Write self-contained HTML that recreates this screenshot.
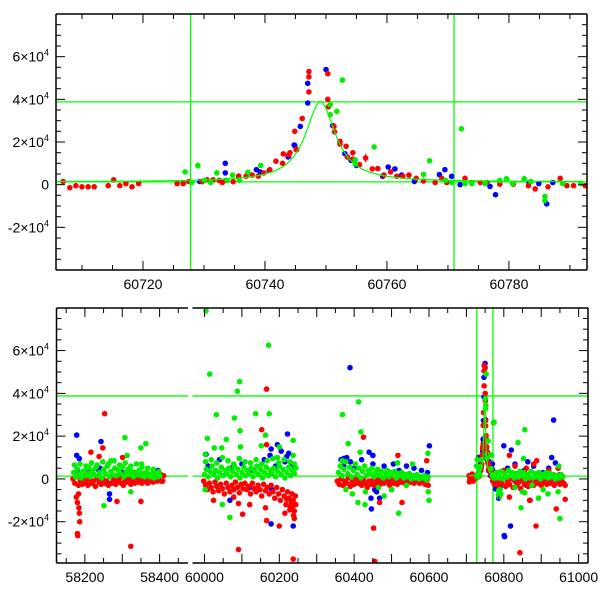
<!DOCTYPE html>
<html><head><meta charset="utf-8">
<style>
html,body{margin:0;padding:0;background:#fff;}
svg{display:block;font-family:"Liberation Sans",sans-serif;}
</style></head>
<body>
<svg id="chart" width="600" height="600" viewBox="0 0 600 600" xmlns="http://www.w3.org/2000/svg"></svg>
<script>
// ---------- DATA (values in units of 1e4) ----------
const topRed=[[60706.9,0.15],[60708,-0.14],[60709,-0.05],[60710,-0.1],[60711,-0.1],[60712,-0.1],[60714.3,-0.05],[60715.2,0.23],[60716.2,-0.05],[60717.2,0.05],[60718.2,-0.1],[60719.3,0.05],[60725.6,0.05],[60726.6,0.05],[60727.5,0.15],[60729.7,0.14],[60730.5,0.23],[60731.5,0.23],[60732.5,0.2],[60733,0.1],[60733.6,0.2],[60734.8,0.14],[60735.7,0.4],[60736.9,0.4],[60737.9,0.45],[60738.9,0.4],[60739.8,0.55],[60740.8,0.7],[60741.8,1.1],[60742.9,1.0],[60743.9,1.4],[60744.9,2.5],[60745.1,1.65],[60743,1.44],[60744.1,1.5],[60745.2,1.64],[60746.1,3.1],[60747.2,4.35],[60747.2,5.05],[60747.2,5.3],[60750.3,5.2],[60750.3,4.0],[60750.4,3.65],[60751.3,2.73],[60751.4,2.48],[60752.3,2.03],[60752.3,1.9],[60753.3,1.8],[60753.5,1.3],[60754.4,1.5],[60754.4,1.2],[60755.5,0.94],[60756.5,1.25],[60757.6,0.74],[60758.5,0.76],[60759.5,0.45],[60760.6,0.6],[60761.6,0.39],[60762.6,0.39],[60763.6,0.45],[60764.8,0.3],[60766,0.17],[60767.9,0.1],[60769,0.3],[60769.8,0.1],[60772.8,0.3],[60773.9,0.1],[60775.3,0.1],[60776.4,0.1],[60778.5,0.02],[60780.7,0.02],[60783.2,-0.05],[60784.3,-0.2],[60786.4,-0.1],[60788.4,0.3],[60789.5,-0.05],[60790.6,-0.05],[60792.5,-0.05]];
const topBlue=[[60747,4.75],[60747,3.83],[60745.8,2.73],[60744.9,1.83],[60743.8,1.3],[60750,5.4],[60751.1,2.77],[60753.1,1.45],[60754.1,1.14],[60755,0.9],[60759.3,0.39],[60760.2,0.83],[60761.3,0.74],[60762.4,0.45],[60764.5,0.15],[60768.6,0.47],[60769.5,0.7],[60770.6,0.39],[60772,0],[60776.9,-0.08],[60777.8,-0.47],[60783.3,0.1],[60786.2,-0.9],[60787.2,0.1],[60784.9,0.05],[60729.3,0.15],[60733.5,1.0],[60733.5,0.55],[60735.7,0.36],[60738.6,0.7],[60739.2,0.6],[60740.7,0.67],[60743.9,1.33],[60744.8,1.86]];
const topGreen=[[60726.9,0.6],[60729,0.9],[60728,0.1],[60730.1,0.2],[60731.1,0.1],[60732.1,0.55],[60734.7,0.45],[60735.8,0.2],[60737.2,0.58],[60739.3,0.9],[60733.8,0.2],[60752.7,4.9],[60750.7,3.75],[60750.7,3.28],[60751.8,3.44],[60757.9,1.77],[60754.8,1.17],[60754.8,0.97],[60767,1.12],[60766,0.48],[60772.2,2.62],[60769.6,0.2],[60770.6,0.1],[60772.8,0.05],[60773.9,0.05],[60776.1,0.05],[60778.5,0.2],[60779.6,0.28],[60780.6,0.05],[60782.5,0.28],[60783.6,0.15],[60785.9,-0.55],[60785.9,-0.75],[60788.8,0.05],[60791.8,0.05]];
const errBars=[[60729,0.9,0.15,'g'],[60756.5,1.25,0.2,'r'],[60785.9,-0.65,0.2,'g'],[60786.2,-0.9,0.1,'b']];
const botRed=[[58253,3.05],[58216,1.25],[58248,1.45],[58238,1.05],[58301,1.0],[58177,-0.85],[58183,-0.7],[58180,-1.1],[58184,-1.35],[58185,-1.6],[58186,-2.0],[58180,-2.55],[58181,-2.65],[58286,-1.05],[58323,-3.15],[58350,-1.05],[58405,-0.1],[60166,4.2],[60153,2.3],[60166,1.6],[60091,-3.3],[60102,-1.65],[60091,-1.15],[60078,-0.85],[60024,-1.0],[60166,-1.95],[60200,-2.2],[60237,-3.75],[60240,-1.85],[60215,-1.6],[60235,-1.3],[60121,-1.2],[60163,-1.35],[60425,1.95],[60452,-2.3],[60517,1.1],[60528,-1.1],[60594,0.85],[60468,-1.1],[60455,-3.85],[60843,-3.45],[60886,-2.2],[60964,-0.95],[60940,-1.4],[60815,1.1],[60888,0.85],[60815,-0.85],[60869,-1.0],[60717,0.05]];
const botBlue=[[58178,2.05],[58178,1.1],[58185,0.95],[58243,1.75],[58266,-0.7],[58266,-0.95],[58396,0.4],[58235,0.45],[60178,-2.1],[60222,2.1],[60237,-2.2],[60068,-1.0],[60195,1.6],[60220,1.05],[60178,1.4],[60004,1.15],[60389,5.2],[60601,1.55],[60446,-1.4],[60440,1.25],[60372,0.95],[60505,0.7],[60450,1.1],[60800,1.55],[60801,-2.65],[60802,-2.7],[60818,-2.2],[60933,2.75],[60928,1.0],[60820,1.35],[60864,0.8],[60938,0.75],[60870,-1.0]];
const botGreen=[[58307,1.93],[58363,1.65],[58350,1.45],[58313,1.1],[58251,-1.25],[58323,-0.6],[58270,0.85],[58352,0.7],[58210,0.55],[60004,7.85],[60014,4.9],[60032,3.0],[60008,1.9],[60002,1.15],[60026,1.45],[60046,1.45],[60058,1.85],[60080,2.85],[60088,4.1],[60094,4.55],[60095,2.25],[60096,1.5],[60068,-1.8],[60002,-0.5],[60137,3.05],[60173,3.05],[60171,6.25],[60163,2.05],[60152,1.55],[60200,1.5],[60237,1.8],[60237,1.1],[60195,1.0],[60048,-1.2],[60369,3.0],[60412,3.6],[60418,2.2],[60384,1.65],[60416,1.25],[60597,1.2],[60519,-1.6],[60600,-1.0],[60429,-1.2],[60516,0.75],[60556,0.7],[60368,0.85],[60774,2.65],[60856,2.3],[60838,1.7],[60846,-1.35],[60950,-1.85],[60853,0.95],[60947,0.6],[60788,-0.85],[60856,-0.65],[60893,-0.9]];
const bandRed=[[58168,0.0],[58173,-0.2],[58178,0.1],[58183,-0.3],[58188,-0.1],[58193,-0.25],[58198,0.05],[58203,-0.15],[58208,-0.3],[58213,0.0],[58218,-0.2],[58223,-0.1],[58228,-0.35],[58233,0.05],[58238,-0.15],[58243,-0.25],[58248,0.0],[58253,-0.2],[58258,-0.1],[58263,-0.3],[58268,0.1],[58273,-0.2],[58278,-0.05],[58283,-0.25],[58288,-0.1],[58293,0.05],[58298,-0.2],[58303,-0.3],[58308,-0.05],[58313,-0.15],[58318,0.0],[58323,-0.25],[58328,-0.1],[58333,-0.2],[58338,0.05],[58343,-0.15],[58348,-0.05],[58353,-0.2],[58358,0.0],[58363,-0.1],[58368,-0.2],[58373,0.05],[58378,-0.1],[58383,-0.15],[58388,0.0],[58393,-0.1],[58398,0.1],[58403,0.2],[58408,-0.1],[58411,0.15],
[59998,-0.1],[60003,-0.3],[60008,-0.5],[60013,-0.2],[60018,-0.4],[60023,-0.6],[60028,-0.15],[60033,-0.35],[60038,-0.55],[60043,-0.25],[60048,-0.45],[60053,-0.7],[60058,-0.2],[60063,-0.4],[60068,-0.6],[60073,-0.3],[60078,-0.5],[60083,-0.15],[60088,-0.4],[60093,-0.65],[60098,-0.25],[60103,-0.45],[60108,-0.2],[60113,-0.5],[60118,-0.35],[60123,-0.7],[60128,-0.2],[60133,-0.45],[60138,-0.6],[60143,-0.3],[60148,-0.5],[60153,-0.8],[60158,-0.25],[60163,-0.55],[60168,-0.4],[60173,-0.7],[60178,-0.3],[60183,-0.6],[60188,-0.9],[60193,-0.4],[60198,-0.7],[60203,-1.0],[60208,-0.5],[60213,-0.8],[60218,-1.2],[60222,-0.6],[60226,-0.9],[60230,-1.3],[60234,-0.7],[60237,-1.0],[60240,-1.5],[60243,-0.8],[60244,-1.2],[60238,-1.7],[60228,-1.45],[60232,-1.1],[60220,-0.95],
[60355,-0.1],[60360,-0.25],[60365,0.0],[60370,-0.3],[60375,-0.1],[60380,-0.2],[60385,0.05],[60390,-0.35],[60395,-0.15],[60400,-0.25],[60405,0.0],[60410,-0.2],[60415,-0.1],[60420,-0.3],[60425,-0.05],[60430,-0.2],[60435,-0.4],[60440,-0.1],[60445,-0.25],[60450,-0.05],[60455,-0.3],[60460,-0.15],[60465,0.0],[60470,-0.25],[60475,-0.1],[60480,-0.2],[60485,0.05],[60490,-0.15],[60495,-0.3],[60500,-0.05],[60505,-0.2],[60510,-0.1],[60515,-0.25],[60520,0.0],[60525,-0.15],[60530,-0.05],[60535,-0.2],[60540,-0.1],[60545,0.0],[60550,-0.15],[60555,-0.05],[60560,-0.2],[60565,0.0],[60570,-0.1],[60575,-0.2],[60580,0.0],[60585,-0.1],[60590,-0.25],[60595,-0.05],[60598,-0.3],
[60770,-0.1],[60775,-0.25],[60780,0.0],[60785,-0.3],[60790,-0.1],[60795,-0.2],[60800,0.05],[60805,-0.35],[60810,-0.15],[60815,-0.25],[60820,0.0],[60825,-0.4],[60830,-0.1],[60835,-0.3],[60840,-0.15],[60845,-0.45],[60850,-0.05],[60855,-0.25],[60860,-0.1],[60865,-0.35],[60870,-0.2],[60875,0.0],[60880,-0.3],[60885,-0.1],[60890,-0.2],[60895,-0.05],[60900,-0.3],[60905,-0.15],[60910,0.0],[60915,-0.25],[60920,-0.1],[60925,-0.2],[60930,0.0],[60935,-0.3],[60940,-0.15],[60945,-0.05],[60950,-0.25],[60955,-0.1],[60960,-0.2],[60964,-0.3],
[60800,0.4],[60830,0.6],[60860,0.5],[60880,0.7],[60920,0.4],[60945,0.5]];
const bandBlue=[[58180,0.4],[58210,0.3],[58240,0.5],[58270,-0.2],[58300,0.3],[58330,0.2],[58360,0.25],[58390,0.1],
[60010,0.6],[60040,0.9],[60070,0.5],[60100,0.7],[60130,0.4],[60160,0.9],[60175,1.1],[60190,0.6],[60205,1.3],[60215,0.8],[60225,1.2],[60235,0.7],[60242,0.5],[60120,-0.4],[60180,-0.5],
[60365,0.9],[60372,0.6],[60380,1.0],[60390,0.8],[60400,0.5],[60420,0.9],[60450,0.7],[60460,-0.6],[60468,-0.9],[60480,0.6],[60500,-0.5],[60520,0.4],[60540,0.6],[60560,0.5],[60580,0.4],[60596,0.3],[60445,-0.9],[60455,-0.5],
[60785,0.3],[60810,0.5],[60830,0.7],[60855,0.4],[60880,0.6],[60905,0.3],[60920,0.5],[60950,0.2],[60790,-0.4],[60860,-0.3]];
const bandGreen=[[58170,0.3],[58175,0.1],[58180,0.45],[58185,0.2],[58190,0.05],[58195,0.35],[58200,0.15],[58205,0.5],[58210,0.25],[58215,0.1],[58220,0.4],[58225,0.2],[58230,0.55],[58235,0.15],[58240,0.3],[58245,0.05],[58250,0.45],[58255,0.25],[58260,0.6],[58265,0.1],[58270,0.35],[58275,0.2],[58280,0.5],[58285,0.15],[58290,0.4],[58295,0.25],[58300,0.55],[58305,0.1],[58310,0.3],[58315,0.45],[58320,0.2],[58325,0.35],[58330,0.1],[58335,0.3],[58340,0.2],[58345,0.4],[58350,0.15],[58355,0.25],[58360,0.1],[58365,0.3],[58370,0.2],[58375,0.1],[58380,0.25],[58385,0.05],[58390,0.2],[58395,0.1],[58400,0.15],
[58172,0.65],[58187,0.7],[58203,0.6],[58218,0.75],[58233,0.65],[58248,0.8],[58263,0.7],[58278,0.85],[58293,0.65],[58308,0.75],[58323,0.6],[58338,0.7],[58353,0.55],[58368,0.5],[58383,0.45],[58398,0.35],
[60000,0.2],[60005,0.45],[60010,0.1],[60015,0.35],[60020,0.6],[60025,0.2],[60030,0.4],[60035,0.05],[60040,0.3],[60045,0.55],[60050,0.15],[60055,0.4],[60060,0.25],[60065,0.5],[60070,0.1],[60075,0.35],[60080,0.6],[60085,0.2],[60090,0.45],[60095,0.05],[60100,0.3],[60105,0.55],[60110,0.15],[60115,0.4],[60120,0.25],[60125,0.5],[60130,0.1],[60135,0.35],[60140,0.6],[60145,0.2],[60150,0.45],[60155,0.05],[60160,0.3],[60165,0.55],[60170,0.15],[60175,0.4],[60180,0.25],[60185,0.5],[60190,0.1],[60195,0.35],[60200,0.6],[60205,0.2],[60210,0.45],[60215,0.05],[60220,0.3],[60225,0.55],[60230,0.15],[60235,0.4],[60240,0.25],[60244,0.5],
[60003,0.8],[60018,0.9],[60033,0.75],[60048,1.0],[60063,0.85],[60078,0.7],[60093,0.95],[60108,0.8],[60123,0.75],[60138,0.9],[60153,0.7],[60168,0.85],[60183,0.95],[60198,0.75],[60213,0.9],[60228,0.8],[60240,0.7],
[60358,0.3],[60363,0.6],[60368,0.15],[60373,0.45],[60378,0.8],[60383,0.25],[60388,0.55],[60393,0.1],[60398,0.4],[60403,0.7],[60408,0.2],[60413,0.5],[60418,0.05],[60423,0.35],[60428,0.6],[60433,0.15],[60438,0.4],[60443,0.25],[60448,0.5],[60453,0.1],[60458,0.3],[60463,0.45],[60468,0.15],[60473,0.35],[60478,0.05],[60483,0.25],[60488,0.4],[60493,0.1],[60498,0.3],[60503,0.2],[60508,0.35],[60513,0.05],[60518,0.25],[60523,0.15],[60528,0.3],[60533,0.05],[60538,0.2],[60543,0.1],[60548,0.25],[60553,0.0],[60558,0.15],[60563,0.05],[60568,0.2],[60573,0.0],[60578,0.1],[60583,0.05],[60588,0.15],[60593,-0.05],[60598,0.1],
[60378,-0.5],[60395,-0.7],[60410,-1.1],[60430,-0.6],[60465,-0.4],[60480,-0.8],[60500,-0.5],[60540,-0.3],[60598,-0.6],
[60773,0.2],[60778,0.05],[60783,0.3],[60788,0.1],[60793,0.35],[60798,0.0],[60803,0.25],[60808,0.1],[60813,0.4],[60818,0.15],[60823,0.3],[60828,0.05],[60833,0.25],[60838,0.1],[60843,0.35],[60848,0.15],[60853,0.3],[60858,0.0],[60863,0.2],[60868,0.1],[60873,0.35],[60878,0.05],[60883,0.25],[60888,0.1],[60893,0.3],[60898,0.0],[60903,0.2],[60908,0.1],[60913,0.3],[60918,0.05],[60923,0.25],[60928,0.1],[60933,0.2],[60938,0.0],[60943,0.15],[60948,0.05],[60953,0.2],[60958,0.1],
[60790,-0.5],[60792,-0.7],[60830,-0.4],[60850,-0.6],[60875,-0.3],[60905,-0.5],[60918,-0.7],[60945,-0.6]];
const fitBase=0.13, fitAmp=3.75, fitCenter=60749.1, fitWidth=3.0;
const hLines=[0.13,3.88];
const vLines=[60727.8,60771];
const topXTicks=[60720,60740,60760,60780];
const botXTicks=[58200,58400,60000,60200,60400,60600,60800,61000];
const yTickVals=[-2,0,2,4,6];

// ---------- AXES ----------
const svg=document.getElementById('chart');
const NS='http://www.w3.org/2000/svg';
const COL={r:'#ff0000',b:'#0000ff',g:'#00ee00'};
function mk(tag,attrs,parent){const e=document.createElementNS(NS,tag);for(const k in attrs)e.setAttribute(k,attrs[k]);(parent||svg).appendChild(e);return e;}
const panelTop={x0:56,x1:587,y0:14,y1:270,yd:[-4,8],segs:[{p0:56,p1:587,d0:60705.74,d1:60792.8}]};
const panelBot={x0:56.5,x1:588,y0:308,y1:563,yd:[-3.93,7.99],segs:[{p0:56.5,p1:188,d0:58124,d1:58476},{p0:192.5,p1:588,d0:59968,d1:61025}]};
function sy(P,v){return P.y1-(v-P.yd[0])/(P.yd[1]-P.yd[0])*(P.y1-P.y0);}
function segOf(P,d){for(const s of P.segs){if(d>=s.d0&&d<=s.d1)return s;}return null;}
function sx(P,d){const s=segOf(P,d);if(!s)return null;return s.p0+(d-s.d0)/(s.d1-s.d0)*(s.p1-s.p0);}

function drawPanel(P,name,xt,pts){
  const g=mk('g',{});
  
  
  const cid='clip-'+name;
  const cp=mk('clipPath',{id:cid},g);mk('rect',{x:P.x0,y:P.y0,width:P.x1-P.x0,height:P.y1-P.y0},cp);
  const plot=mk('g',{'clip-path':'url(#'+cid+')'},g);
  
  
  for(const v of hLines){for(const s of P.segs){const l=mk('line',{x1:s.p0,x2:s.p1,y1:sy(P,v),y2:sy(P,v),stroke:'#00ff00','stroke-width':1.3},plot);
    
    }}
  for(const d of vLines){const x=sx(P,d);if(x===null)continue;const l=mk('line',{x1:x,x2:x,y1:P.y0,y2:P.y1,stroke:'#00ff00','stroke-width':1.3},plot);
    
    }
  for(const [arr,c] of pts){
    for(const p of arr){const x=sx(P,p[0]);if(x===null)continue;
      const e=mk('circle',{cx:x.toFixed(1),cy:sy(P,p[1]).toFixed(1),r:2.8,fill:COL[c]},plot);
      
      }
  }
  for(const eb of errBars){const x=sx(P,eb[0]);if(x===null)continue;
    const e=mk('line',{x1:x,x2:x,y1:sy(P,eb[1]-eb[2]),y2:sy(P,eb[1]+eb[2]),stroke:COL[eb[3]],'stroke-width':1.2},plot);
    
    }
  let dpath='';let first=true;
  for(let d=60706;d<=60792;d+=0.25){const x=sx(P,d);if(x===null)continue;
    const u=(d-fitCenter)/fitWidth;
    const v=fitBase+fitAmp/(1+u*u);
    dpath+=(first?'M':'L')+x.toFixed(1)+','+sy(P,v).toFixed(1);first=false;}
  const fc=mk('path',{d:dpath,fill:'none',stroke:'#00ff00','stroke-width':1.2},plot);
  
  
  const fr=mk('g',{stroke:'#000','stroke-width':1.5,fill:'none'},g);
  
  
  mk('line',{x1:P.x0,x2:P.x0,y1:P.y0,y2:P.y1},fr);
  mk('line',{x1:P.x1,x2:P.x1,y1:P.y0,y2:P.y1},fr);
  for(const s of P.segs){mk('line',{x1:s.p0,x2:s.p1,y1:P.y0,y2:P.y0},fr);mk('line',{x1:s.p0,x2:s.p1,y1:P.y1,y2:P.y1},fr);}
  const tk=mk('g',{stroke:'#000','stroke-width':1},g);
  
  
  for(let v=-3.5;v<=8;v+=0.5){const y=sy(P,v);if(y<P.y0+1||y>P.y1-1)continue;
    const L=(Math.abs(v%2)<1e-6)?9:5;
    mk('line',{x1:P.x0,x2:P.x0+L,y1:y,y2:y},tk);mk('line',{x1:P.x1,x2:P.x1-L,y1:y,y2:y},tk);}
  for(const s of P.segs){const span=s.d1-s.d0;const step=span<200?5:50;const maj=span<200?20:100;
    for(let d=Math.ceil(s.d0/step)*step;d<=s.d1;d+=step){const x=sx(P,d);if(x===null||x<s.p0+1||x>s.p1-1)continue;
      const L=(d%maj===0)?9:5;
      mk('line',{x1:x,x2:x,y1:P.y1,y2:P.y1-L},tk);mk('line',{x1:x,x2:x,y1:P.y0,y2:P.y0+L},tk);}}
  for(const v of yTickVals){const y=sy(P,v)+5;
    const t=mk('text',{x:49,y:y,'text-anchor':'end','font-size':14,fill:'#000'},g);
    
    
    if(v===0){t.textContent='0';}else{t.textContent=(v<0?'-':'')+Math.abs(v)+'×10';const s=mk('tspan',{'font-size':9,dy:-6},t);s.textContent='4';}
  }
  for(const d of xt){let x=sx(P,d);if(x===null)continue;
    const t=mk('text',{x:x,y:P.y1+19,'text-anchor':'middle','font-size':14,fill:'#000'},g);
    
    
    t.textContent=String(d);}
}
const allBotBlue=bandBlue.concat(botBlue,topBlue), allBotRed=bandRed.concat(botRed,topRed), allBotGreen=bandGreen.concat(botGreen,topGreen);
drawPanel(panelTop,'zoomed-panel',topXTicks,[[topBlue,'b'],[topRed,'r'],[topGreen,'g']]);
drawPanel(panelBot,'full-panel',botXTicks,[[allBotBlue,'b'],[allBotRed,'r'],[allBotGreen,'g']]);
</script>
</body></html>
